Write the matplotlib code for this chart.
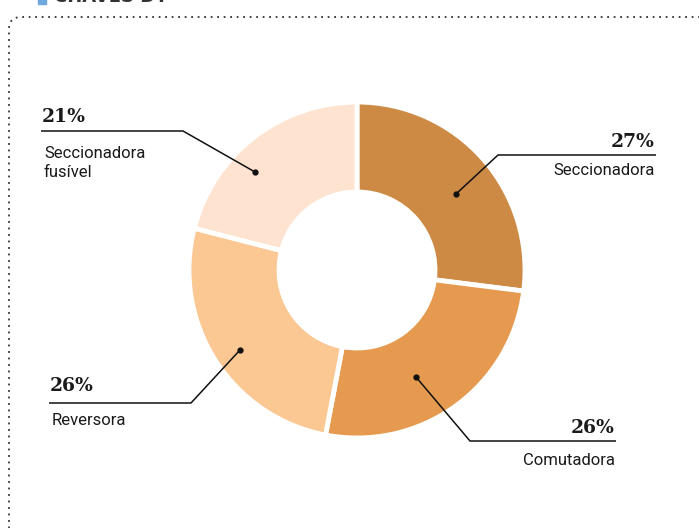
import matplotlib
matplotlib.use('Agg')
import matplotlib.pyplot as plt
from matplotlib.patches import FancyBboxPatch, Rectangle

# data
labels = ['Seccionadora', 'Comutadora', 'Reversora', 'Seccionadora\nfusível']
shares = [27, 26, 26, 21]
colors = ['#CD8A45', '#E59A50', '#FBC792', '#FDE3D0']

W, H = 699, 528

def P(x, y):
    # pixel coords (from top-left) -> data coords
    return (x, H - y)

fig = plt.figure(figsize=(W / 100, H / 100), dpi=100)
ax = fig.add_axes([0, 0, 1, 1])

cx, cy = P(357, 270)
ax.pie(shares, colors=colors, startangle=90, counterclock=False,
       center=(cx, cy), radius=168, frame=True,
       wedgeprops=dict(width=90, edgecolor='white', linewidth=3.5))

ax.set_xlim(0, W)
ax.set_ylim(0, H)
ax.set_aspect('equal')
ax.axis('off')

# dotted frame
frame = FancyBboxPatch(P(9, 560), 760, 560 - 17, boxstyle='round,pad=0,rounding_size=12',
                       fill=False, edgecolor='#333333', linestyle=(0, (1, 2.6)), linewidth=1.3)
ax.add_patch(frame)

# cut-off header (only its lower edge shows in the reference)
ax.add_patch(Rectangle(P(38, 4), 8, 6, color='#6FA8DC', clip_on=False))
ax.text(54, H - 2, 'CHAVES DT', fontsize=13, fontweight='bold', color='#333333',
        va='baseline', ha='left', family='DejaVu Sans')

# leader lines: (dot, elbow, line end, align, pct baseline, label last-line baseline)
callouts = [
    ((456, 194), (498, 155), 656, 'right', 147, 175),
    ((416, 377), (470, 441), 616, 'right', 433, 465),
    ((240, 350), (191, 403), 49, 'left', 391, 425),
    ((255, 172), (183, 131), 41, 'left', 122, 177),
]

for (dot, elbow, xend, ha, ypct, ylab), lab, s in zip(callouts, labels, shares):
    xs = [dot[0], elbow[0], xend]
    ys = [H - dot[1], H - elbow[1], H - elbow[1]]
    ax.plot(xs, ys, color='#111111', linewidth=1.1, solid_capstyle='butt')
    ax.plot(*P(*dot), 'o', color='#111111', markersize=3.5)
    tx = xend - 1 if ha == 'right' else xend + 1
    ax.text(tx, H - ypct, f'{s}%', ha=ha, va='baseline', fontsize=13.5,
            fontweight='bold', family='DejaVu Serif', color='#1a1a1a')
    ax.text(tx + (0 if ha == 'right' else 2), H - ylab, lab, ha=ha, va='baseline',
            fontsize=12, family='Roboto', color='#1a1a1a', linespacing=1.3,
            multialignment='left')

fig.savefig('out.png', dpi=100)
